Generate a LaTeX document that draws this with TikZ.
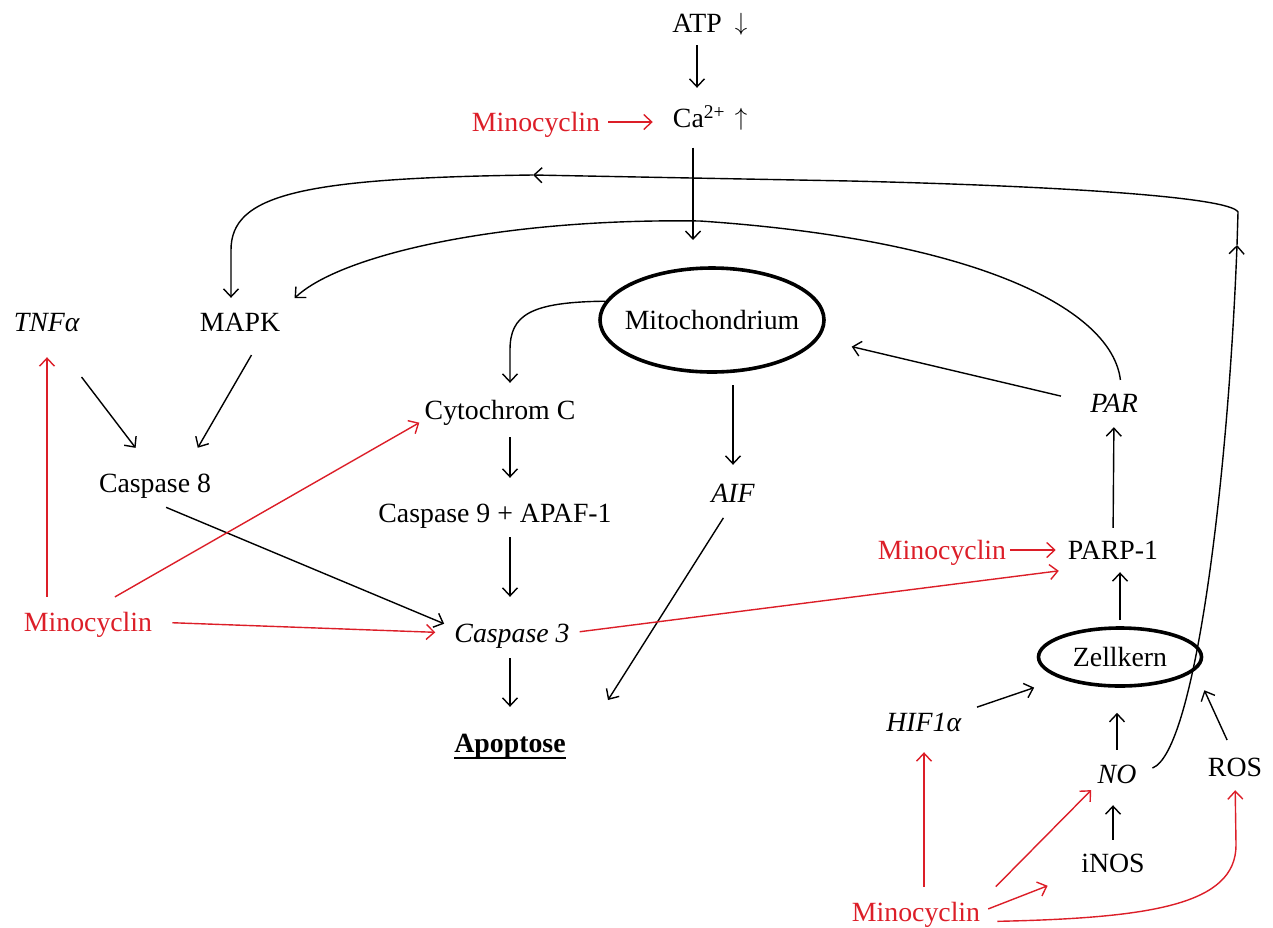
\documentclass[tikz,border=0pt]{standalone}
\usepackage{fontspec}
\setmainfont{Liberation Serif}
\usetikzlibrary{arrows.meta,shapes.geometric}
\definecolor{minored}{RGB}{220,30,40}
\newcommand{\diafont}{\fontsize{27.8pt}{32pt}\selectfont}
\newcommand{\thickul}[1]{\setbox0\hbox{#1}\leavevmode\rlap{\raisebox{-6.5pt}{\rule{\wd0}{2.4pt}}}\box0}
\begin{document}
\begin{tikzpicture}[x=1pt,y=-1pt,
  every node/.style={font=\diafont, inner sep=0pt, text height=19pt, text depth=0pt},
  conn/.style={draw=black, line width=1.4pt, -{Straight Barb[length=8pt,width=15pt]}},
  redc/.style={conn, draw=minored},
  minotext/.style={text=minored},
  cell/.style={ellipse, draw, line width=3.6pt}
]
\useasboundingbox (0,0) rectangle (1273,927);

% nodes
\node (atp) at (697,23) {ATP};
\node (atpdn) at (741,21) {$\downarrow$};
\node (ca) at (699,118) {Ca\textsuperscript{2+}};
\node (caup) at (741,116) {$\uparrow$};
\node[minotext] (minoT) at (536,122) {Minocyclin};
\coordinate (caend) at (693,240);
\node[cell, minimum width=224pt, minimum height=104pt] (mito) at (712,320) {\makebox[140pt]{Mitochondrium}};
\node (tnf) at (47,322) {\textit{TNFα}};
\node (mapk) at (240,322) {MAPK};
\node (cyt) at (500,410) {Cytochrom C};
\node (casp8) at (155,483) {Caspase 8};
\node (casp9) at (495,513) {Caspase 9 + APAF-1};
\node (aif) at (733,493) {\textit{AIF}};
\node (par) at (1114,403) {\textit{PAR}};
\node (parp) at (1113,550) {PARP-1};
\node[minotext] (minoR) at (942,550) {Minocyclin};
\node[minotext] (minoL) at (88,622) {Minocyclin};
\node (casp3) at (512,633) {\textit{Caspase 3}};
\node (apo) at (510,743) {\thickul{\textbf{Apoptose}}};
\node[cell, minimum width=163pt, minimum height=58pt] (zk) at (1120,657) {Zellkern};
\node (hif) at (924,722) {\textit{HIF1α}};
\node (no) at (1117,774) {\textit{NO}};
\node (ros) at (1235,767) {ROS};
\node (inos) at (1113,863) {iNOS};
\node[minotext] (minoB) at (916,912) {Minocyclin};

\coordinate (nc1) at (1237,245);
\coordinate (topmid) at (533,175);
\coordinate (aiftip) at (608,700);

% top
\draw[conn, shorten <=12.5pt, shorten >=20.5pt] (atp.south) -- (atp.south |- ca.north);
\draw[conn, shorten <=20pt] (ca.south -| caend) -- (caend);
\draw[redc, shorten <=8pt, shorten >=20pt] (minoT.east) -- (minoT.east -| ca.west);

% long feedback from NO to MAPK
\draw[conn, shorten <=17pt] (no.east) .. controls (1195,752) and (1228,480) .. (nc1);
\draw[conn] (nc1) -- (1238,212) .. controls (1230,197) and (1060,186) .. (850,181) -- (topmid);
\draw[conn, shorten >=14.5pt] (topmid) .. controls (300,178) and (231,195) .. (231,250) -- ([xshift=-9pt]mapk.north);

% PAR arc to MAPK
\draw[conn, shorten <=13.5pt, shorten >=3pt] ([xshift=8pt]par.north) .. controls (1112,310) and (980,240) .. (700,221) .. controls (500,218) and (340,255) .. ([shift={(12pt,12pt)}]mapk.north east);

% mitochondrial pathway
\draw[conn, shorten >=17.5pt] (mito.170) .. controls (530,302) and (510,315) .. (510,350) -- (cyt.north -| apo.north);
\draw[conn, shorten <=17.5pt, shorten >=25.5pt] (cyt.south -| apo.north) -- (casp9.north -| apo.north);
\draw[conn, shorten <=14.5pt, shorten >=26.5pt] (casp9.south -| apo.north) -- (casp3.north -| apo.north);
\draw[conn, shorten <=15.5pt, shorten >=26.5pt] (casp3.south -| apo.north) -- (apo.north);
\draw[conn, shorten <=11.5pt, shorten >=18.5pt] (aif.north |- mito.south) -- (aif.north);
\draw[conn, shorten <=18pt] (aif.south) -- (aiftip);
\draw[conn, shorten <=30pt, shorten >=34pt] (par.west) -- (mito.-10);

% nucleus side
\draw[conn, shorten <=12.5pt, shorten >=14.5pt] (parp.north) -- (par.south);
\draw[conn, shorten <=6pt, shorten >=12.5pt] (zk.north) -- (zk.north |- parp.south);
\draw[conn, shorten <=16pt, shorten >=28pt] (hif.north east) -- (zk.200);
\draw[conn, shorten <=14.5pt, shorten >=25pt] (no.north) -- (no.north |- zk.south);
\draw[conn, shorten <=19pt, shorten >=22pt] (ros.north) -- (zk.-10);
\draw[conn, shorten <=13.5pt, shorten >=21.5pt] (inos.north) -- (inos.north |- no.south);

% left side
\draw[conn, shorten <=57pt, shorten >=32pt] (tnf.south) -- (casp8.north);
\draw[conn, shorten <=27pt, shorten >=29.5pt] ([xshift=25pt]mapk.south) -- ([xshift=28pt]casp8.north);
\draw[conn, shorten <=12pt, shorten >=11pt] ([yshift=-10pt]casp8.south) -- ([yshift=5pt]casp3.west);

% red: minocyclin
\draw[redc, shorten <=15.5pt, shorten >=25.5pt] (tnf.south |- minoL.north) -- (tnf.south);
\draw[redc, shorten <=31pt, shorten >=6pt] (minoL.north) -- (cyt.south west);
\draw[redc, shorten <=20pt, shorten >=19pt] (minoL.east) -- (casp3.west);
\draw[redc, shorten <=10pt, shorten >=9pt] (casp3.east) -- ([yshift=-10pt]parp.south west);
\draw[redc, shorten <=4pt, shorten >=12pt] (minoR.east) -- (parp.west);
\draw[redc, shorten <=15.5pt, shorten >=20.5pt] (hif.south |- minoB.north) -- (hif.south);
\draw[redc, shorten <=22pt, shorten >=9pt] (minoB.north east) -- (no.south west);
\draw[redc, shorten <=8.5pt, shorten >=36pt] (minoB.east) -- (inos.south west);
\draw[redc, shorten <=17pt, shorten >=13.5pt] (minoB.south east) .. controls (1150,918) and (1236,905) .. (1236,845) -- (ros.south);
\end{tikzpicture}
\end{document}
